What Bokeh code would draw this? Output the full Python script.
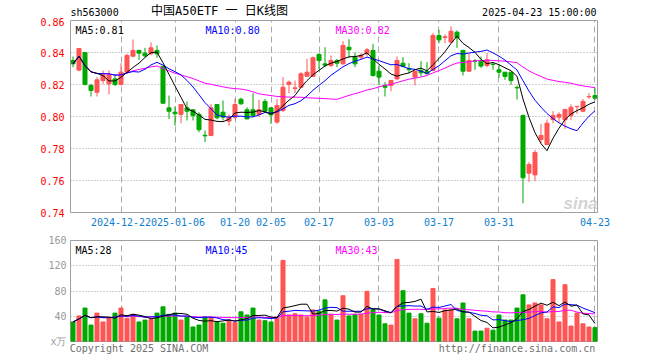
import numpy as np
import pandas as pd
from bokeh.plotting import figure
from bokeh.layouts import column
from bokeh.models import (ColumnDataSource, FixedTicker, Label, Range1d,
                          PrintfTickFormatter, LinearAxis)
from bokeh.embed import file_html
from bokeh.resources import INLINE

# ---------------- data ----------------
open_ = [
    0.8350, 0.8290, 0.8400, 0.8194, 0.8152, 0.8225, 0.8204, 0.8235, 0.8200, 0.8277,
    0.8377, 0.8413, 0.8396, 0.8392, 0.8413, 0.8313, 0.8054, 0.8027, 0.8013, 0.8054,
    0.8042, 0.8013, 0.7883, 0.7881, 0.8075, 0.8027, 0.7971, 0.7996, 0.8108, 0.8042,
    0.8042, 0.8013, 0.8094, 0.8054, 0.7965, 0.8038, 0.8200, 0.8175, 0.8183, 0.8252,
    0.8250, 0.8388, 0.8329, 0.8319, 0.8350, 0.8329, 0.8433, 0.8371, 0.8371, 0.8392,
    0.8413, 0.8283, 0.8194, 0.8194, 0.8235, 0.8333, 0.8300, 0.8246, 0.8288, 0.8283,
    0.8288, 0.8506, 0.8494, 0.8465, 0.8527, 0.8413, 0.8283, 0.8348, 0.8346, 0.8319,
    0.8327, 0.8292, 0.8277, 0.8277, 0.8181, 0.8006, 0.7646, 0.7635, 0.7856, 0.7825,
    0.7981, 0.7996, 0.7979, 0.8006, 0.8061, 0.8033, 0.8123, 0.8131]
high = [
    0.8375, 0.8429, 0.8400, 0.8204, 0.8246, 0.8288, 0.8288, 0.8267, 0.8333, 0.8392,
    0.8481, 0.8417, 0.8429, 0.8463, 0.8444, 0.8317, 0.8131, 0.8063, 0.8079, 0.8094,
    0.8042, 0.8027, 0.7913, 0.8079, 0.8075, 0.8100, 0.8013, 0.8110, 0.8117, 0.8058,
    0.8146, 0.8104, 0.8110, 0.8054, 0.8110, 0.8246, 0.8225, 0.8225, 0.8277, 0.8360,
    0.8375, 0.8396, 0.8433, 0.8381, 0.8360, 0.8471, 0.8483, 0.8400, 0.8396, 0.8429,
    0.8454, 0.8319, 0.8215, 0.8229, 0.8375, 0.8371, 0.8333, 0.8288, 0.8346, 0.8340,
    0.8521, 0.8542, 0.8513, 0.8563, 0.8538, 0.8417, 0.8392, 0.8360, 0.8375, 0.8396,
    0.8340, 0.8329, 0.8277, 0.8277, 0.8194, 0.8013, 0.7715, 0.7792, 0.7954, 0.7981,
    0.8033, 0.8027, 0.8048, 0.8075, 0.8063, 0.8110, 0.8146, 0.8177]
low = [
    0.8308, 0.8283, 0.8194, 0.8125, 0.8125, 0.8204, 0.8138, 0.8190, 0.8194, 0.8267,
    0.8371, 0.8354, 0.8371, 0.8383, 0.8367, 0.8079, 0.7985, 0.7942, 0.7958, 0.7975,
    0.7975, 0.7902, 0.7840, 0.7877, 0.7983, 0.7975, 0.7942, 0.7983, 0.8075, 0.7983,
    0.7996, 0.7996, 0.8029, 0.7954, 0.7954, 0.8027, 0.8146, 0.8146, 0.8179, 0.8246,
    0.8246, 0.8298, 0.8308, 0.8308, 0.8308, 0.8325, 0.8367, 0.8308, 0.8354, 0.8375,
    0.8250, 0.8194, 0.8125, 0.8158, 0.8229, 0.8308, 0.8271, 0.8194, 0.8250, 0.8263,
    0.8283, 0.8458, 0.8458, 0.8458, 0.8429, 0.8256, 0.8277, 0.8292, 0.8304, 0.8308,
    0.8292, 0.8242, 0.8229, 0.8198, 0.8106, 0.7458, 0.7590, 0.7596, 0.7833, 0.7819,
    0.7958, 0.7965, 0.7923, 0.7979, 0.8017, 0.8027, 0.8110, 0.8104]
close = [
    0.8329, 0.8425, 0.8200, 0.8163, 0.8229, 0.8260, 0.8260, 0.8200, 0.8277, 0.8381,
    0.8413, 0.8396, 0.8379, 0.8429, 0.8392, 0.8083, 0.8033, 0.8017, 0.8075, 0.8033,
    0.8006, 0.7917, 0.7879, 0.8054, 0.7992, 0.7996, 0.7992, 0.8075, 0.8079, 0.7985,
    0.8006, 0.8042, 0.8033, 0.8010, 0.8069, 0.8183, 0.8215, 0.8179, 0.8267, 0.8277,
    0.8367, 0.8350, 0.8321, 0.8350, 0.8333, 0.8444, 0.8417, 0.8329, 0.8383, 0.8417,
    0.8256, 0.8246, 0.8183, 0.8225, 0.8350, 0.8313, 0.8292, 0.8283, 0.8273, 0.8267,
    0.8506, 0.8479, 0.8498, 0.8533, 0.8492, 0.8283, 0.8350, 0.8346, 0.8315, 0.8354,
    0.8325, 0.8277, 0.8250, 0.8225, 0.8179, 0.7617, 0.7700, 0.7775, 0.7881, 0.7958,
    0.8006, 0.8013, 0.8044, 0.8058, 0.8063, 0.8094, 0.8125, 0.8115]
volume = [
    31, 40.5, 53, 26, 45, 31, 38, 45, 53, 37,
    43, 31, 34, 35, 45, 55, 43, 45, 34, 39,
    23, 26, 39, 38, 31, 29, 34, 30, 47, 42,
    53, 34, 33, 31, 39, 128.5, 42, 44, 42, 39,
    50, 48, 66, 43, 34, 72.5, 40.5, 43, 43, 79.5,
    51, 42, 28, 26, 130, 80.5, 45, 36, 44, 29,
    84, 37, 50, 50, 36, 61, 36, 16.5, 16.5, 21,
    18, 42, 34, 34, 53, 74, 58, 61, 58, 36,
    98, 31, 90, 24.5, 45, 28, 23, 22]

date_tick_idx = [8, 17, 27, 33, 41, 51, 61, 71, 87]
date_tick_labels = ["2024-12-2\u00a0", "2025-01-06", "01-20", "02-05", "02-17",
                    "03-03", "03-17", "03-31", "04-23"]
price_ticks = [0.74, 0.76, 0.78, 0.80, 0.82, 0.84, 0.86]
volume_ticks = [0, 40, 80, 120, 160]
volume_tick_labels = {0: "x万", 40: "40", 80: "80", 120: "120", 160: "160"}

code = "sh563000"
title = "中国A50ETF 一 日K线图"
stamp = "2025-04-23 15:00:00"
price_ma_labels = ["MA5:0.81", "MA10:0.80", "MA30:0.82"]
volume_ma_labels = ["MA5:28", "MA10:45", "MA30:43"]
copyright_text = "Copyright 2025 SINA.COM"
url_text = "http://finance.sina.com.cn"

# ---------------- styling ----------------
RED = "#ff5555"
GREEN = "#00a800"
MA_COLORS = ["#000000", "#0000ff", "#ff00ff"]
MONO = "DejaVu Sans Mono"
FS = "10px"

n = len(close)
df = pd.DataFrame(dict(i=np.arange(n), open=open_, high=high, low=low,
                       close=close, volume=volume))
df["color"] = np.where(df["close"] >= df["open"], RED, GREEN)
df["top"] = df[["open", "close"]].max(axis=1)
df["bottom"] = df[["open", "close"]].min(axis=1)
for w in (5, 10, 30):
    df[f"ma{w}"] = df["close"].rolling(w, min_periods=1).mean()
    df[f"vma{w}"] = df["volume"].rolling(w, min_periods=1).mean()
src = ColumnDataSource(df)

x_range = Range1d(-0.417, n - 0.583)


def plain_axis(ax):
    ax.axis_line_color = None
    ax.major_tick_line_color = None
    ax.minor_tick_line_color = None
    ax.major_tick_in = 0
    ax.major_tick_out = 0
    ax.minor_tick_out = 0
    ax.major_label_text_font = MONO
    ax.major_label_text_font_size = FS


def style_common(fig):
    fig.background_fill_color = "white"
    fig.border_fill_color = "white"
    fig.outline_line_color = "#a0a0a0"
    fig.outline_line_width = 1
    for ax in fig.axis:
        plain_axis(ax)
    fig.xgrid.grid_line_color = "#a8a8a8"
    fig.xgrid.grid_line_dash = "6 4"
    fig.ygrid.grid_line_color = "#a0a0a0"
    fig.ygrid.grid_line_dash = "1 2"


label_kw = dict(x_units="screen", y_units="screen", text_font=MONO, text_font_size=FS,
                text_baseline="alphabetic")

# ---------------- header strip (same side borders as the panels) ----------------
h = figure(width=660, height=17, x_range=Range1d(0, 1), y_range=Range1d(0, 1),
           output_backend="svg", toolbar_location=None, x_axis_type=None, y_axis_type=None,
           min_border=0, min_border_left=70, min_border_right=63,
           min_border_top=0, min_border_bottom=0)
h.grid.visible = False
h.outline_line_color = None
h.background_fill_color = "white"
h.border_fill_color = "white"
h.add_layout(Label(x=0, y=5, text=code, text_color="#000000", **label_kw))
h.add_layout(Label(x=526, y=5, text=stamp, text_color="#000000", text_align="right", **label_kw))
h.add_layout(Label(x=149, y=7, text=title, text_color="#000000", text_align="center",
                   x_units="screen", y_units="screen", text_baseline="alphabetic",
                   text_font="'DejaVu Sans Mono', 'Noto Sans CJK SC'",
                   text_font_size="12px"))

# ---------------- price panel ----------------
p = figure(width=660, height=215, x_range=x_range, y_range=Range1d(0.74, 0.86),
           output_backend="svg", toolbar_location=None, min_border=0,
           min_border_left=70, min_border_right=63, min_border_top=3, min_border_bottom=20)
style_common(p)
p.xaxis.ticker = FixedTicker(ticks=date_tick_idx)
p.xaxis.major_label_overrides = dict(zip(date_tick_idx, date_tick_labels))
p.xaxis.major_label_text_color = "#1080d0"
p.xaxis.major_label_standoff = 4
p.yaxis.ticker = FixedTicker(ticks=price_ticks)
p.yaxis.formatter = PrintfTickFormatter(format="%.2f")
p.yaxis.major_label_text_color = "#ff0000"
p.yaxis.major_label_standoff = 6

p.segment(x0="i", y0="low", x1="i", y1="high", line_color="color", line_width=1, source=src)
p.vbar(x="i", width=0.67, top="top", bottom="bottom", fill_color="color",
       line_color="color", line_width=1, source=src)
for w, c in zip((30, 10, 5), MA_COLORS[::-1]):
    p.line(x="i", y=f"ma{w}", line_color=c, line_width=1, source=src)

for xx, txt, c in zip((5, 135, 265), price_ma_labels, MA_COLORS):
    p.add_layout(Label(x=xx, y=182.5, text=txt, text_color=c, **label_kw))
p.add_layout(Label(x=527, y=9, text="sina", text_color="#c8c8c8", text_align="right",
                   x_units="screen", y_units="screen", text_baseline="alphabetic",
                   text_font="Liberation Sans", text_font_size="17px",
                   text_font_style="bold italic", text_alpha=0.8))

# ---------------- volume panel ----------------
v = figure(width=660, height=128, x_range=x_range, y_range=Range1d(0, 160),
           output_backend="svg", toolbar_location=None, min_border=0,
           min_border_left=70, min_border_right=63, min_border_top=8, min_border_bottom=19)
style_common(v)
v.xaxis.ticker = FixedTicker(ticks=date_tick_idx)
v.xaxis.visible = False
v.yaxis.ticker = FixedTicker(ticks=volume_ticks)
v.yaxis.major_label_overrides = volume_tick_labels
v.yaxis.major_label_text_color = "#999999"
v.yaxis.major_label_standoff = 4

v.vbar(x="i", width=0.67, top="volume", bottom=0, fill_color="color",
       line_color="color", line_width=1, source=src)
for w, c in zip((30, 10, 5), MA_COLORS[::-1]):
    v.line(x="i", y=f"vma{w}", line_color=c, line_width=1, source=src)

for xx, txt, c in zip((5, 135, 265), volume_ma_labels, MA_COLORS):
    v.add_layout(Label(x=xx, y=91, text=txt, text_color=c, **label_kw))

# footer texts carried by an extra bottom axis of the volume panel
footer_ticks = [11, 74]
footer_axis = LinearAxis(ticker=FixedTicker(ticks=footer_ticks),
                         major_label_overrides=dict(zip(footer_ticks, [copyright_text, url_text])))
plain_axis(footer_axis)
footer_axis.major_label_text_color = "#707070"
footer_axis.major_label_standoff = 1
v.add_layout(footer_axis, "below")

layout = column(h, p, v, spacing=0)
open("out.html", "w").write(file_html(layout, INLINE))
